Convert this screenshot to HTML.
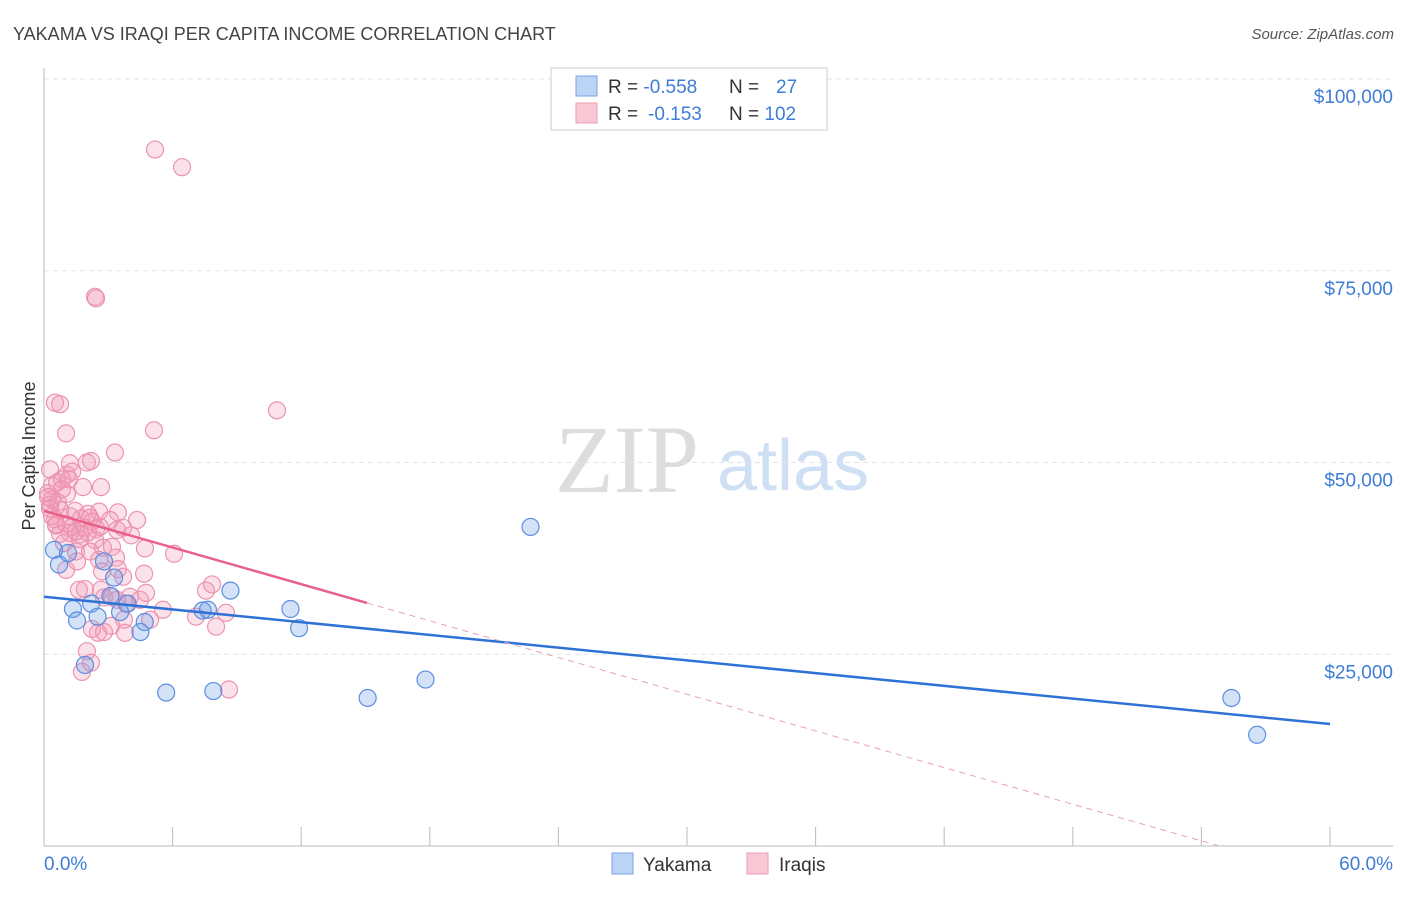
<!DOCTYPE html>
<html><head><meta charset="utf-8"><style>
body{margin:0;background:#fff;font-family:"Liberation Sans",sans-serif}
svg text{font-family:"Liberation Sans",sans-serif}
</style></head><body>
<svg id="c" width="1406" height="892" viewBox="0 0 1406 892">
<text x="13" y="40" font-size="18" fill="#444">YAKAMA VS IRAQI PER CAPITA INCOME CORRELATION CHART</text>
<text x="1394" y="39" font-size="15" fill="#555" font-style="italic" text-anchor="end">Source: ZipAtlas.com</text>
<text x="555" y="492" font-size="96" fill="#ddd" font-family="Liberation Serif" style="font-family:'Liberation Serif',serif">ZIP</text>
<text x="717" y="490" font-size="72" fill="#cfe0f5">atlas</text>
<g id="grid"></g>
<g id="axes"></g>
<g id="pts"></g>
<g id="lines"></g>
<text x="35" y="456" font-size="18" fill="#333" text-anchor="middle" transform="rotate(-90 35 456)">Per Capita Income</text>
<text x="44" y="870" font-size="19" fill="#3d7dd8">0.0%</text>
<text x="1393" y="870" font-size="19" fill="#3d7dd8" text-anchor="end">60.0%</text>
<g>
<rect x="551" y="68" width="276" height="62" fill="#fff" stroke="#ddd" stroke-width="1.5"/>
<rect x="576" y="76" width="21" height="20" fill="#bcd4f5" stroke="#7aa3e0"/>
<rect x="576" y="103" width="21" height="20" fill="#f8c8d6" stroke="#ec9bb4"/>
<text x="608" y="93" font-size="19" fill="#333">R = <tspan fill="#3d7dd8">-0.558</tspan></text>
<text x="729" y="93" font-size="19" fill="#333">N = <tspan fill="#3d7dd8" x="776">27</tspan></text>
<text x="608" y="120" font-size="19" fill="#333">R = <tspan fill="#3d7dd8" x="648">-0.153</tspan></text>
<text x="729" y="120" font-size="19" fill="#333">N = <tspan fill="#3d7dd8">102</tspan></text>
</g>
<g>
<rect x="612" y="853" width="21" height="21" fill="#bcd4f5" stroke="#7aa3e0"/>
<text x="643" y="871" font-size="19" fill="#333">Yakama</text>
<rect x="747" y="853" width="21" height="21" fill="#f8c8d6" stroke="#ec9bb4"/>
<text x="779" y="871" font-size="19" fill="#333">Iraqis</text>
</g>
</svg>
<script>
const yTicks=[25000,50000,75000,100000];
const yTickLabels=["$25,000","$50,000","$75,000","$100,000"];
const xTicks=[0,6,12,18,24,30,36,42,48,54,60];
const blueX=[0.47,0.7,1.12,1.35,1.54,1.91,2.2,2.5,2.8,3.27,3.1,3.55,3.9,4.5,4.7,5.7,7.4,7.65,7.9,8.7,11.5,11.9,15.1,17.8,22.7,55.4,56.6];
const blueY=[38.6,36.7,38.2,30.9,29.4,23.6,31.6,29.9,37.1,35.0,32.6,30.5,31.6,27.9,29.2,20.0,30.7,30.8,20.2,33.3,30.9,28.4,19.3,21.7,41.6,19.3,14.5];
const pinkX=[5.18,6.44,2.38,2.43,0.51,0.75,10.87,1.03,5.13,3.31,2.19,2.0,1.21,0.28,1.07,1.31,0.37,0.61,0.84,1.17,2.66,1.82,1.07,0.19,0.37,0.28,0.75,1.45,2.05,2.57,3.45,1.73,2.15,4.34,0.56,1.03,1.31,1.87,2.24,2.61,3.08,3.41,3.69,4.06,0.75,1.21,1.68,2.38,2.75,4.71,6.07,0.93,1.49,2.15,2.57,3.36,1.03,1.54,4.67,3.45,3.69,2.71,7.84,7.56,1.63,1.91,2.8,3.17,4.01,4.76,2.66,3.83,5.55,7.09,8.49,8.63,8.03,3.73,4.95,2.52,2.8,2.24,3.13,3.78,2.0,2.19,1.77,3.41,4.48,0.19,0.28,0.37,0.51,0.65,0.84,1.21,1.49,1.68,2.05,2.43,3.17,0.56];
const pinkY=[90.8,88.5,71.6,71.4,57.8,57.6,56.8,53.8,54.2,51.3,50.2,50.0,49.9,49.1,48.4,48.8,47.0,47.4,47.8,47.8,46.8,46.8,45.9,45.5,45.2,44.5,43.8,43.7,43.3,43.6,43.5,42.7,42.8,42.5,41.9,42.0,41.6,41.5,42.3,41.6,42.5,41.2,41.5,40.5,40.7,40.8,40.6,39.9,38.9,38.8,38.1,39.5,38.4,38.4,37.3,37.6,36.0,37.1,35.5,36.1,35.1,35.8,34.1,33.3,33.4,33.5,32.4,32.5,32.5,33.0,33.4,31.6,30.8,29.9,30.4,20.4,28.6,29.5,29.5,27.8,27.9,28.3,28.7,27.8,25.4,23.9,22.7,32.1,32.1,46.0,44.0,43.0,42.6,44.8,46.5,43.0,41.0,40.0,40.9,41.3,39.0,41.8];
const blueLine=[32.5,15.9];   // $k at 0% and 60%
const pinkLine=[43.7,-0.797]; // intercept $k, slope $k per %
const pinkSolidEnd=15.07, pinkDashEnd=54.8;
const X=v=>44+v*(1286/60);
const Y=v=>846-v*(767/100000);
const NS='http://www.w3.org/2000/svg';
function mk(tag,attrs,parent){const e=document.createElementNS(NS,tag);for(const k in attrs)e.setAttribute(k,attrs[k]);document.getElementById(parent).appendChild(e);return e;}
yTicks.forEach((t,i)=>{
 const g=mk('line',{x1:44,x2:1393,y1:Y(t),y2:Y(t),stroke:'#e3e3e3','stroke-dasharray':'5,4'},'grid');
 
 
 const l=mk('text',{x:1393,y:Y(t)+24,'font-size':19,fill:'#3d7dd8','text-anchor':'end'},'grid');
 l.textContent=yTickLabels[i];
 
 
});
let a=mk('line',{x1:44,x2:44,y1:68,y2:846,stroke:'#bbb'},'axes');


a=mk('line',{x1:44,x2:1393,y1:846,y2:846,stroke:'#bbb'},'axes');


xTicks.forEach(t=>{
 const e=mk('line',{x1:X(t),x2:X(t),y1:827,y2:846,stroke:'#bbb'},'axes');
 
 
});
pinkX.forEach((x,i)=>{
 const c=mk('circle',{cx:X(x),cy:Y(pinkY[i]*1000),r:8.5,fill:'rgba(242,150,180,0.28)',stroke:'#ec93b0','stroke-width':1.2},'pts');
 
 
});
blueX.forEach((x,i)=>{
 const c=mk('circle',{cx:X(x),cy:Y(blueY[i]*1000),r:8.5,fill:'rgba(110,160,230,0.3)',stroke:'#5b8fe0','stroke-width':1.2},'pts');
 
 
});
let l=mk('line',{x1:X(0),y1:Y(blueLine[0]*1000),x2:X(60),y2:Y(blueLine[1]*1000),stroke:'#2f72d6','stroke-width':2.5},'lines');


const py=x=>Y((pinkLine[0]+pinkLine[1]*x)*1000);
l=mk('line',{x1:X(0),y1:py(0),x2:X(pinkSolidEnd),y2:py(pinkSolidEnd),stroke:'#e8608a','stroke-width':2.5},'lines');


l=mk('line',{x1:X(pinkSolidEnd),y1:py(pinkSolidEnd),x2:X(pinkDashEnd),y2:py(pinkDashEnd),stroke:'#e8a0b8','stroke-width':1,'stroke-dasharray':'6,5'},'lines');


</script>
</body></html>
